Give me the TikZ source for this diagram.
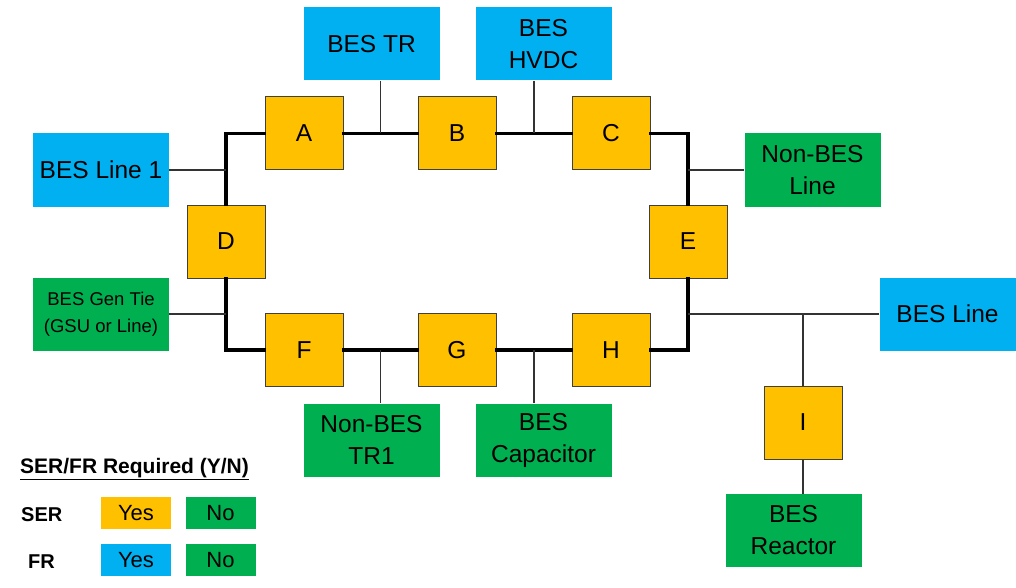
\documentclass[tikz,border=0pt]{standalone}
\usepackage{fontspec}
\setmainfont{Liberation Sans}
\usetikzlibrary{calc}
\definecolor{sorange}{HTML}{FFC000}
\definecolor{sblue}{HTML}{00B0F0}
\definecolor{sgreen}{HTML}{00B050}
\tikzset{
  relay/.style={draw=black!75, line width=1pt, fill=sorange, minimum width=78pt, minimum height=73pt, inner sep=0pt, font=\fontsize{24.5}{28}\selectfont},
  elem/.style={minimum width=136pt, minimum height=73pt, inner sep=0pt, align=center, font=\fontsize{24.5}{32}\selectfont},
  bluebox/.style={elem, fill=sblue},
  greenbox/.style={elem, fill=sgreen},
  bus/.style={line width=3.5pt, line cap=rect},
  tap/.style={line width=1.2pt, draw=black!80},
  legbox/.style={minimum width=70pt, minimum height=32pt, inner sep=0pt, font=\fontsize{22}{24}\selectfont},
}
\begin{document}
\begin{tikzpicture}[x=1pt,y=-1pt]
\useasboundingbox[fill=white] (0,0) rectangle (1016,588);
% relays
\node[relay] (A) at (304,133.5) {A};
\node[relay] (B) at (457,133.5) {B};
\node[relay] (C) at (611,133.5) {C};
\node[relay] (D) at (226,241.5) {D};
\node[relay] (E) at (688,241.5) {E};
\node[relay] (F) at (304,350) {F};
\node[relay] (G) at (457,350) {G};
\node[relay] (H) at (611,350) {H};
\node[relay] (I) at (803,422.5) {I};
% elements
\node[bluebox] (TR) at (371.5,44) {BES TR};
\node[bluebox] (HVDC) at (543.5,44) {BES\\HVDC};
\node[bluebox] (L1) at (101,170) {BES Line 1};
\node[greenbox] (NBL) at (812.5,170) {Non-BES\\Line};
\node[greenbox, font=\fontsize{18.5}{27}\selectfont] (GT) at (101,314) {BES Gen Tie\\(GSU or Line)};
\node[bluebox] (BL) at (947.5,314) {BES Line};
\node[greenbox] (TR1) at (371.5,440) {Non-BES\\TR1};
\node[greenbox] (CAP) at (543.5,440) {BES\\Capacitor};
\node[greenbox] (R) at (793.5,530.5) {BES\\Reactor};
% bus
\draw[bus] (A.west) -| (D.north);
\draw[bus] (D.south) |- (F.west);
\draw[bus] (A.east) -- (B.west);
\draw[bus] (B.east) -- (C.west);
\draw[bus] (C.east) -| (E.north);
\draw[bus] (E.south) |- (H.east);
\draw[bus] (F.east) -- (G.west);
\draw[bus] (G.east) -- (H.west);
% taps
\coordinate (tAB) at ($(A.east)!0.5!(B.west)$);
\coordinate (tBC) at ($(B.east)!0.5!(C.west)$);
\coordinate (tFG) at ($(F.east)!0.5!(G.west)$);
\coordinate (tGH) at ($(G.east)!0.5!(H.west)$);
\draw[tap] (tAB) -- (tAB |- TR.south);
\draw[tap] (tBC) -- (tBC |- HVDC.south);
\draw[tap] (tFG) -- (tFG |- TR1.north);
\draw[tap] (tGH) -- (tGH |- CAP.north);
\draw[tap] (L1.east) -- (L1.east -| D.center);
\draw[tap] (GT.east) -- (GT.east -| D.center);
\draw[tap] (NBL.west) -- (NBL.west -| E.center);
\draw[tap] (BL.west) -- (BL.west -| E.center);
\draw[tap] (I.north) -- (I.north |- BL.west);
\draw[tap] (I.south) -- (I.south |- R.north);
% legend
\node[anchor=base west, inner sep=0pt, font=\bfseries\fontsize{21}{24}\selectfont] (LT) at (20,473) {\underline{SER/FR Required (Y/N)}};
\node[anchor=west, inner sep=0pt, font=\bfseries\fontsize{20}{22}\selectfont] (SER) at (21,515) {SER};
\node[anchor=west, inner sep=0pt, font=\bfseries\fontsize{20}{22}\selectfont] (FR) at (28,562) {FR};
\node[legbox, fill=sorange] (SY) at (136,513) {Yes};
\node[legbox, fill=sgreen] (SN) at (220.5,513) {No};
\node[legbox, fill=sblue] (FY) at (136,560) {Yes};
\node[legbox, fill=sgreen] (FN) at (220.5,560) {No};
\end{tikzpicture}
\end{document}
